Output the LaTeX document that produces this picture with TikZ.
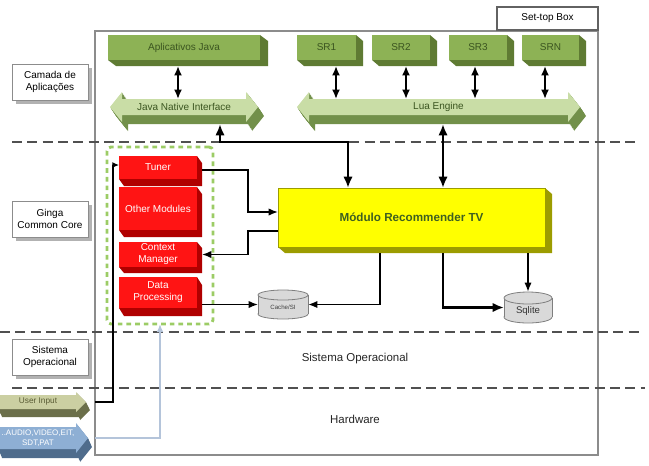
\documentclass[tikz,border=0pt]{standalone}
\usepackage{fontspec}
\setmainfont{Liberation Sans}
\usetikzlibrary{arrows.meta,calc,shadows}
\definecolor{gfront}{HTML}{8DB255}
\definecolor{gdepth}{HTML}{5F7B33}
\definecolor{gtext}{HTML}{3B5520}
\definecolor{jface}{HTML}{C9DDA6}
\definecolor{jdepth}{HTML}{72904A}
\definecolor{rfront}{HTML}{FF1414}
\definecolor{rdepth}{HTML}{B00000}
\definecolor{yfront}{HTML}{FFFF00}
\definecolor{ydepth}{HTML}{9C9C00}
\definecolor{ytext}{HTML}{3F6020}
\definecolor{uface}{HTML}{CBCFA2}
\definecolor{udepth}{HTML}{6B6F4A}
\definecolor{utext}{HTML}{5A5C35}
\definecolor{aface}{HTML}{8EAFD4}
\definecolor{adepth}{HTML}{4F6C8C}
\definecolor{dashgreen}{HTML}{9CCC65}
\definecolor{sepgray}{HTML}{505050}
\definecolor{framegray}{HTML}{8C8C8C}
\definecolor{cylfill}{HTML}{D9D9D9}
\definecolor{cyldraw}{HTML}{7F7F7F}
\definecolor{lightline}{HTML}{B4C4DA}
% box node from corner (x0,y0) to (x1,y1) in pixels
\newcommand{\bnode}[6][]{\node[inner sep=0pt, outer sep=0pt, #1,
  minimum width={(#4-#2)*0.75pt}, minimum height={(#5-#3)*0.75pt}]
  (#6) at ({(#2+#4)/2},{(#3+#5)/2})}
% depth of a 3D box: node name, colour, dx, dy
\newcommand{\depthbox}[4]{%
  \fill[#2] (#1.north east) -- ($(#1.north east)+(#3,#4)$) -- ($(#1.south east)+(#3,#4)$)
    -- ($(#1.south west)+(#3,#4)$) -- (#1.south west) -- (#1.south east) -- cycle;}
% double arrow: style, x1, x2, yc, body half, head half, head length
\newcommand{\dblarrow}[7]{%
  \fill[#1] (#2,#4) -- ({#2+#7},{#4-#6}) -- ({#2+#7},{#4-#5}) -- ({#3-#7},{#4-#5})
    -- ({#3-#7},{#4-#6}) -- (#3,#4) -- ({#3-#7},{#4+#6}) -- ({#3-#7},{#4+#5})
    -- ({#2+#7},{#4+#5}) -- ({#2+#7},{#4+#6}) -- cycle;}
% single arrow: style, x1, x2, yc, body half, head half, head length
\newcommand{\sglarrow}[7]{%
  \fill[#1] (#2,{#4-#5}) -- ({#3-#7},{#4-#5}) -- ({#3-#7},{#4-#6}) -- (#3,#4)
    -- ({#3-#7},{#4+#6}) -- ({#3-#7},{#4+#5}) -- (#2,{#4+#5}) -- cycle;}
\begin{document}
\begin{tikzpicture}[x=0.75pt,y=-0.75pt,
  font=\fontsize{7.5}{9}\selectfont,
  gbox/.style={fill=gfront, text=gtext},
  rbox/.style={fill=rfront, text=white, align=center},
  lbl/.style={draw=framegray, fill=white, align=center,
    drop shadow={shadow xshift=3pt, shadow yshift=-3pt, opacity=1, fill=black!30}},
  sep/.style={draw=sepgray, line width=1.1pt, dash pattern=on 7.5pt off 4pt},
  conn/.style={line width=1.1pt, -{Latex[length=7pt,width=5.5pt]}},
  bconn/.style={line width=1.9pt, -{Latex[length=8.5pt,width=7pt]}},
  bdbl/.style={line width=1.9pt, {Latex[length=8.5pt,width=7pt]}-{Latex[length=8.5pt,width=7pt]}},
  dbl/.style={line width=1.7pt, {Latex[length=7pt,width=6pt]}-{Latex[length=7pt,width=6pt]}},
  cyl/.style={fill=cylfill, draw=cyldraw, line width=0.6pt}]
\useasboundingbox (0,0) rectangle (649,465);

% frame
\bnode[draw=framegray, line width=0.9pt]{95}{31}{598}{455}{stb} {};
\bnode[draw=framegray!70!black, fill=white, line width=0.8pt]{497}{7}{598}{30}{stbl} {Set-top Box};

% separators
\draw[sep] (12,142) -- (640,142);
\draw[sep] (0,332) -- (640,332);
\draw[sep] (12,388) -- (645,388);

% layer labels
\bnode[lbl]{12}{64}{88}{100}{lcam} {Camada de\\Aplicações};
\bnode[lbl]{12}{201}{88}{237}{lgin} {Ginga\\Common Core};
\bnode[lbl]{12}{339}{88}{375}{lso} {Sistema\\Operacional};
\node[font=\fontsize{8.6}{10}\selectfont, text=black!85] (so) at (355,359) {Sistema Operacional};
\node[font=\fontsize{8.6}{10}\selectfont, text=black!85] (hw) at (355,419) {Hardware};

% green application boxes
\bnode[gbox]{108}{35}{260}{60}{aj} {Aplicativos Java};
\depthbox{aj}{gdepth}{8}{6}
\bnode[gbox]{297}{35}{356}{60}{sr1} {SR1};
\depthbox{sr1}{gdepth}{7}{6}
\bnode[gbox]{372}{35}{430}{60}{sr2} {SR2};
\depthbox{sr2}{gdepth}{7}{6}
\bnode[gbox]{449}{35}{507}{60}{sr3} {SR3};
\depthbox{sr3}{gdepth}{7}{6}
\bnode[gbox]{522}{35}{579}{60}{srn} {SRN};
\depthbox{srn}{gdepth}{7}{6}

% JNI and Lua engine 3D arrows
\foreach \s in {0.1,0.2,...,1.0} {
  \dblarrow{jdepth, shift={(\s*6,\s*9)}}{110}{258}{107}{8}{15}{12}
  \dblarrow{jdepth, shift={(\s*6,\s*9)}}{297}{580}{107}{8}{15}{12}
}
\dblarrow{jface}{110}{258}{107}{8}{15}{12}
\dblarrow{jface}{297}{580}{107}{8}{15}{12}
\bnode[text=gtext]{122}{99}{246}{115}{jni} {Java Native Interface};
\bnode[text=gtext]{309}{99}{568}{115}{lua} {Lua Engine};

% input arrows
\foreach \s in {0.1,0.2,...,1.0} {
  \sglarrow{udepth, shift={(\s*4,\s*8)}}{-2}{86}{402}{7}{10}{10}
  \sglarrow{adepth, shift={(\s*4,\s*9)}}{-2}{88}{438}{11}{15}{12}
}
\sglarrow{uface}{-2}{86}{402}{7}{10}{10}
\sglarrow{aface}{-2}{88}{438}{11}{15}{12}
\bnode[text=utext, font=\fontsize{6.2}{7}\selectfont]{0}{395}{76}{409}{ui} {User Input};
\bnode[text=white, align=center, font=\fontsize{6}{7.2}\selectfont]{0}{427}{76}{449}{au} {..AUDIO,VIDEO,EIT,\\SDT,PAT};

% Ginga common core modules
\bnode[draw=dashgreen, line width=2.2pt, dash pattern=on 3.5pt off 3pt, rounded corners=3pt]{107}{147}{213}{324}{gdash} {};
\bnode[rbox]{119}{156}{197}{179}{tuner} {Tuner};
\depthbox{tuner}{rdepth}{5}{7}
\bnode[rbox]{119}{187}{197}{230}{oth} {Other Modules};
\depthbox{oth}{rdepth}{5}{7}
\bnode[rbox]{119}{242}{197}{267}{ctx} {Context\\Manager};
\depthbox{ctx}{rdepth}{5}{6}
\bnode[rbox]{119}{277}{197}{308}{dp} {Data\\Processing};
\depthbox{dp}{rdepth}{5}{8}

% recommender
\bnode[fill=yfront, draw=ydepth, line width=0.5pt, text=ytext,
  font=\fontsize{8.75}{10}\selectfont\bfseries]{278}{188}{545}{247}{yel} {Módulo Recommender TV};
\depthbox{yel}{ydepth}{7}{6}

% databases
\filldraw[cyl] (283,314) ellipse[x radius=25, y radius=5];
\fill[cylfill] (258,295) rectangle (308,314);
\draw[cyldraw, line width=0.6pt] (258,295) -- (258,314) (308,295) -- (308,314);
\filldraw[cyl] (283,295) ellipse[x radius=25, y radius=5];
\bnode[text=black!75, font=\fontsize{4.6}{5}\selectfont, text height=7pt, text depth=0pt]{258}{290}{308}{319}{cache} {Cache/SI};
\filldraw[cyl] (528,317) ellipse[x radius=24, y radius=6];
\fill[cylfill] (504,298) rectangle (552,317);
\draw[cyldraw, line width=0.6pt] (504,298) -- (504,317) (552,298) -- (552,317);
\filldraw[cyl] (528,298) ellipse[x radius=24, y radius=6];
\bnode[text=black!80, font=\fontsize{7.2}{8}\selectfont, text height=9pt, text depth=0pt]{504}{292}{552}{323}{sql} {Sqlite};

% connectors
\draw[dbl] ($(aj.south)+(-6,6)$) -- ($(aj.south |- jni.north)+(-6,0)$);
\draw[dbl] ($(sr1.south)+(9.5,6)$) -- ($(sr1.south |- lua.north)+(9.5,0)$);
\draw[dbl] ($(sr2.south)+(5,6)$) -- ($(sr2.south |- lua.north)+(5,0)$);
\draw[dbl] ($(sr3.south)+(-3,6)$) -- ($(sr3.south |- lua.north)+(-3,0)$);
\draw[dbl] ($(srn.south)+(-5.5,6)$) -- ($(srn.south |- lua.north)+(-5.5,0)$);
\draw[bdbl] ($(jni.south)+(36,9)$) |- ($(yel.north)+(-63.5,-46)$) -- ($(yel.north)+(-63.5,0)$);
\draw[bdbl] ($(lua.south)+(4.5,9)$) -- ($(yel.north)+(31.5,0)$);
\draw[conn] ($(tuner.east)+(5,2.5)$) -- ++(46,0) |- ($(yel.west)+(0,-5.5)$);
\draw[conn] ($(yel.west)+(0,13.5)$) -- ++(-30,0) |- ($(ctx.east)+(5,0)$);
\draw[conn] ($(dp.east |- cache.west)+(5,0)$) -- (cache.west);
\draw[conn, line width=1.4pt] ($(yel.south)+(-31.5,6)$) |- (cache.east);
\draw[bconn] ($(yel.south)+(31.5,6)$) |- (sql.west);
\draw[conn, line width=1.5pt] ($(yel.south -| sql.north)+(0,6)$) -- (sql.north);
\draw[line width=1.3pt, -{Latex[length=5pt,width=4.5pt]}] (stb.west |- ui.east) -- ++(18,0) |- ($(tuner.west)+(0,-2.5)$);
\draw[draw=lightline, line width=1.1pt, -{Latex[length=6pt,width=5pt]}] (stb.west |- au.east) -| (gdash.south);
\end{tikzpicture}
\end{document}
